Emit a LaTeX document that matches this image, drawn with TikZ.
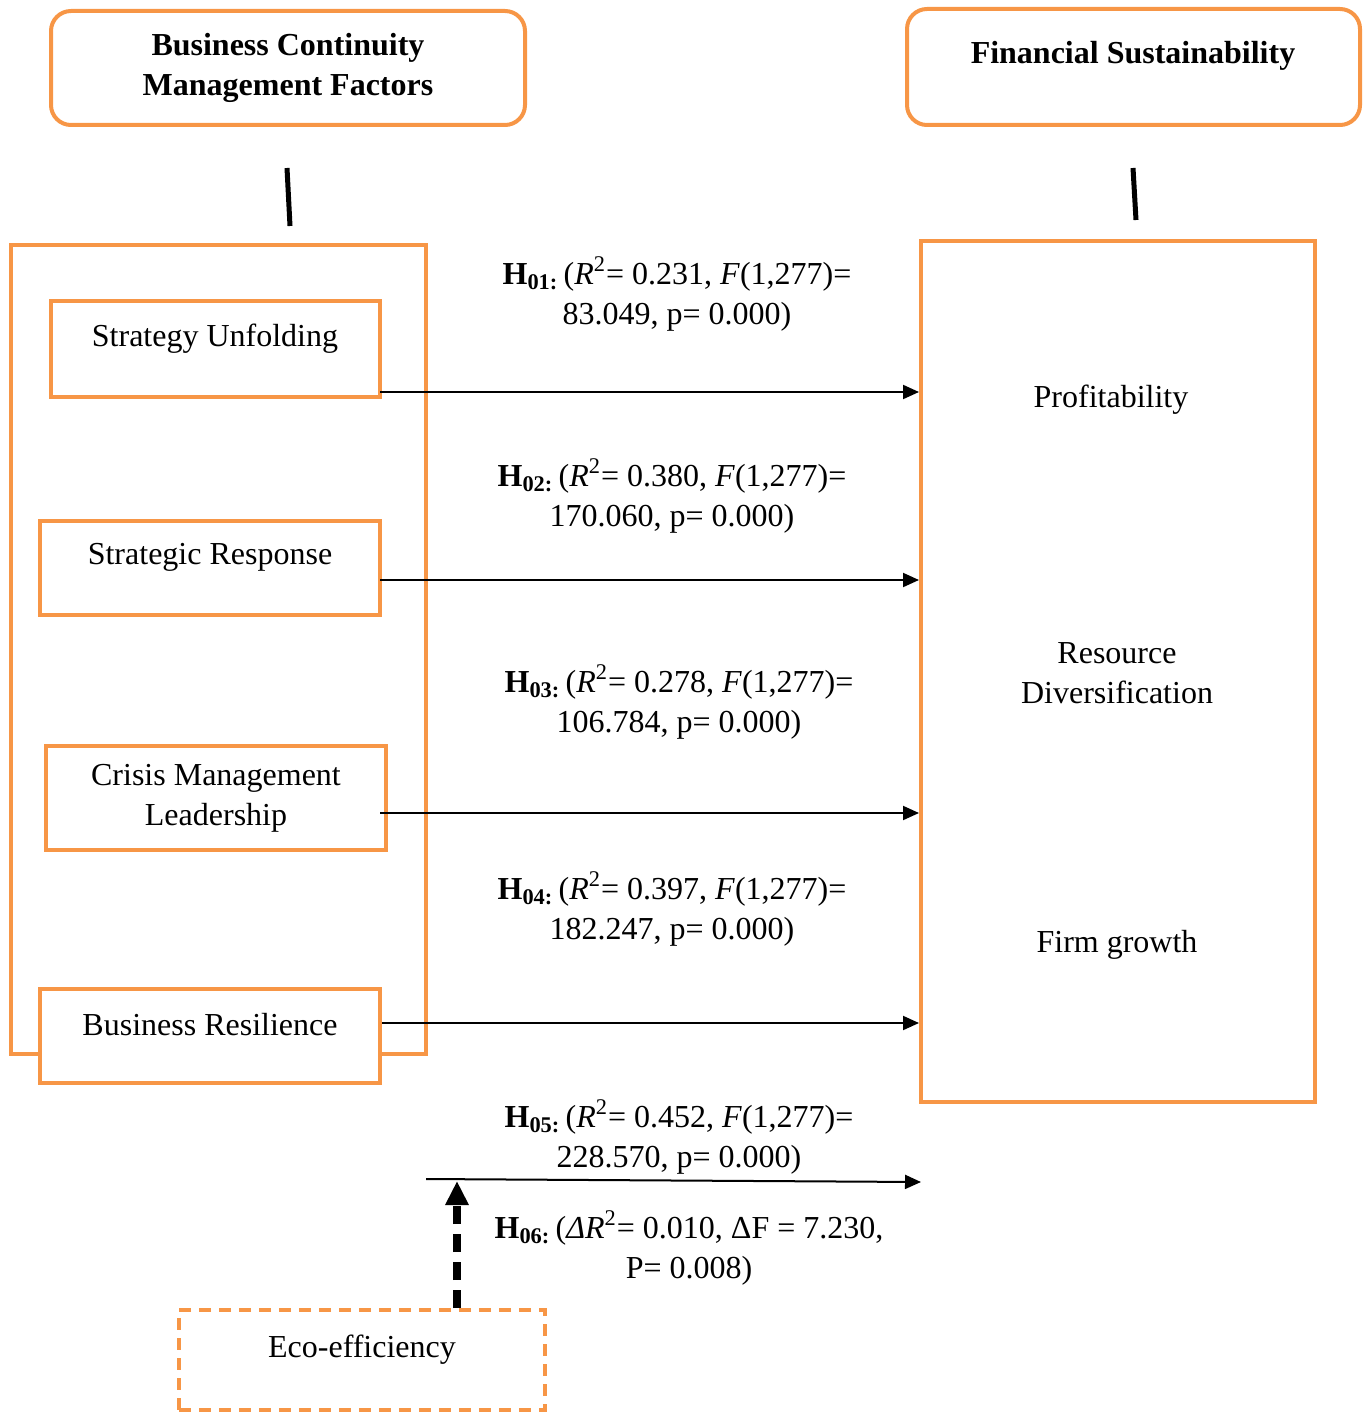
\documentclass[tikz,border=0pt]{standalone}
\usepackage{fontspec}
\setmainfont{Liberation Serif}
\usepackage{tikz}
\usetikzlibrary{arrows.meta}
\definecolor{bcmorange}{HTML}{F79646}
\tikzstyle{es} = [-{Triangle[length=8pt,width=7pt]}, line width=1pt]
\tikzstyle{mods} = [-{Triangle[length=12pt,width=11pt]}, line width=4pt, dash pattern=on 9pt off 5pt]
\tikzstyle{headbox} = [draw=bcmorange, line width=2pt, rounded corners=10pt, inner sep=0pt, align=center, font=\fontsize{16}{20}\selectfont\bfseries]
\tikzstyle{bigbox} = [draw=bcmorange, line width=2pt, inner sep=0pt]
\tikzstyle{varbox} = [draw=bcmorange, line width=2pt, fill=white, inner sep=0pt, minimum width=170pt, minimum height=47pt]
\tikzstyle{hyp} = [align=center]
\tikzstyle{tick} = [line width=2.5pt]

\begin{document}
\begin{tikzpicture}[x=0.5pt,y=-0.5pt,every node/.style={font=\fontsize{16}{20}\selectfont}]
	\useasboundingbox (0,0) rectangle (1364,1412);
	\node[headbox, minimum width=237pt, minimum height=57pt] (bcmhead) at (288,68) {Business Continuity\\Management Factors};
	\node[headbox, minimum width=226.5pt, minimum height=58pt] (fshead) at (1133.5,67) {};
	\node[font=\fontsize{16}{20}\selectfont\bfseries] at (1133,56) {Financial Sustainability};
	\draw[tick] (287,168) -- (290,226);
	\draw[tick] (1133,168) -- (1136,220);
	\node[bigbox, minimum width=207.5pt, minimum height=404.5pt] (bcm) at (218.5,649.5) {};
	\node[bigbox, minimum width=197pt, minimum height=430.5pt] (fs) at (1118,671.5) {};
	\node[varbox, minimum width=164.5pt, minimum height=48pt] (su) at (215.5,349) {};
	\node at (215,339) {Strategy Unfolding};
	\node[varbox] (sr) at (210,568) {};
	\node at (210,557) {Strategic Response};
	\node[varbox, minimum height=52pt] (cml) at (216,798) {};
	\node[align=center] at (216,798) {Crisis Management\\Leadership};
	\node[varbox] (br) at (210,1036) {};
	\node at (210,1025) {Business Resilience};
	\node at (1111,400) (prof) {Profitability};
	\node[align=center] at (1117,673) (rd) {Resource\\Diversification};
	\node at (1117,945) (fg) {Firm growth};
	\node[draw=bcmorange, line width=2pt, dash pattern=on 6pt off 4pt, inner sep=0pt, minimum width=183pt, minimum height=50pt] (eco) at (362,1360) {};
	\node at (362,1350) {Eco-efficiency};
	\coordinate (a1) at (380,392);
	\coordinate (a2) at (380,580);
	\coordinate (a3) at (380,813);
	\coordinate (a4) at (382,1023);
	\draw[es] (a1) -- (a1 -| fs.west);
	\draw[es] (a2) -- (a2 -| fs.west);
	\draw[es] (a3) -- (a3 -| fs.west);
	\draw[es] (a4) -- (a4 -| fs.west);
	\coordinate (h5s) at (426,1179);
	\coordinate (h5e) at (921,1182);
	\draw[es] (h5s) -- (h5e);
	\coordinate (mod) at (457,1181);
	\draw[mods] (mod |- eco.north) -- (mod);
	\node[hyp] at (677,294) {\textbf{H\textsubscript{01:}}\,(\textit{R}\textsuperscript{2}= 0.231, \textit{F}(1,277)=\\83.049, p= 0.000)};
	\node[hyp] at (672,496) {\textbf{H\textsubscript{02:}}\,(\textit{R}\textsuperscript{2}= 0.380, \textit{F}(1,277)=\\170.060, p= 0.000)};
	\node[hyp] at (679,702) {\textbf{H\textsubscript{03:}}\,(\textit{R}\textsuperscript{2}= 0.278, \textit{F}(1,277)=\\106.784, p= 0.000)};
	\node[hyp] at (672,909) {\textbf{H\textsubscript{04:}}\,(\textit{R}\textsuperscript{2}= 0.397, \textit{F}(1,277)=\\182.247, p= 0.000)};
	\node[hyp] at (679,1137) {\textbf{H\textsubscript{05:}}\,(\textit{R}\textsuperscript{2}= 0.452, \textit{F}(1,277)=\\228.570, p= 0.000)};
	\node[hyp] at (689,1248) {\textbf{H\textsubscript{06:}}\,(\textit{ΔR}\textsuperscript{2}= 0.010, ΔF = 7.230,\\P= 0.008)};
\end{tikzpicture}
\end{document}
